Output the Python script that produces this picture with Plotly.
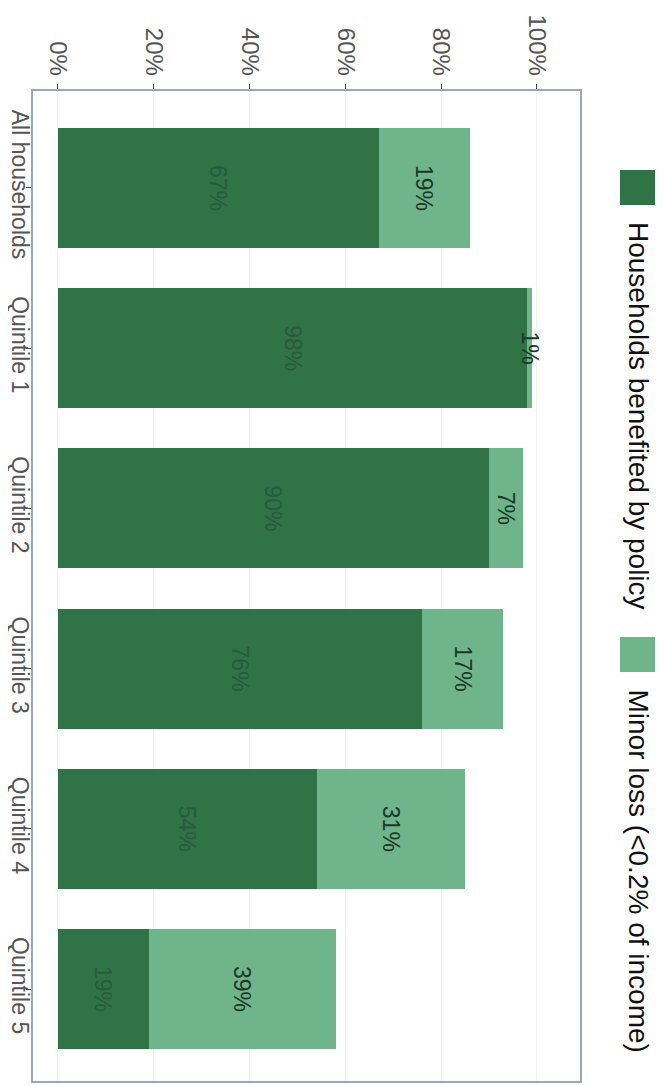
import plotly.graph_objects as go

# ---- data ----
categories = ["All households", "Quintile 1", "Quintile 2", "Quintile 3", "Quintile 4", "Quintile 5"]
benefited = [67, 98, 90, 76, 54, 19]
minor_loss = [19, 1, 7, 17, 31, 39]
series_names = ["Households benefited by policy", "Minor loss (<0.2% of income)"]
tick_values = [0, 20, 40, 60, 80, 100]
tick_labels = ["0%", "20%", "40%", "60%", "80%", "100%"]

# ---- style ----
FONT = "Liberation Sans, Arial, Helvetica, sans-serif"
DARK = "#2f7347"
LIGHT = "#6fb48a"
W, H = 664, 1086
OFF = 8  # page body margin
# plot-area box in page pixels, converted to figure pixels
PL, PR, PT, PB = 33 - OFF, 580 - OFF, 91 - OFF, 1081 - OFF


def px_x(X):
    return (X - OFF - PL) / (PR - PL)


def px_y(Y):
    return (PB - (Y - OFF)) / (PB - PT)


fig = go.Figure()
fig.add_trace(go.Bar(
    y=categories, x=benefited, orientation="h", name=series_names[0],
    marker=dict(color=DARK, line=dict(width=0)),
    text=[f"{v}%" for v in benefited], textposition="inside",
    insidetextanchor="middle", textangle=90, constraintext="none",
    textfont=dict(color="#275b3b", size=23, family=FONT),
))
fig.add_trace(go.Bar(
    y=categories, x=minor_loss, orientation="h", name=series_names[1],
    marker=dict(color=LIGHT, line=dict(width=0)),
    text=[f"{v}%" for v in minor_loss], textposition="inside",
    insidetextanchor="middle", textangle=90, constraintext="none",
    textfont=dict(color="#1b3727", size=23, family=FONT),
))

# legend drawn rotated (as in the reference)
legend_items = [
    (series_names[0], DARK, 170),
    (series_names[1], LIGHT, 637),
]
shapes = []
annotations = []
for name, col, ytop in legend_items:
    shapes.append(dict(type="rect", xref="paper", yref="paper",
                       x0=px_x(620), x1=px_x(655), y0=px_y(ytop + 35), y1=px_y(ytop),
                       fillcolor=col, line=dict(width=0)))
    annotations.append(dict(text=name, xref="paper", yref="paper",
                            x=px_x(638), y=px_y(ytop + 50), xanchor="center", yanchor="top",
                            textangle=90, showarrow=False,
                            font=dict(size=28, color="#111111", family=FONT)))

fig.update_layout(
    barmode="stack", bargap=0.25,
    width=W, height=H,
    margin=dict(l=PL, r=W - PR, t=PT, b=H - PB, autoexpand=False),
    paper_bgcolor="white", plot_bgcolor="white",
    showlegend=False,
    font=dict(family=FONT),
    shapes=shapes, annotations=annotations,
    xaxis=dict(side="top", range=[-5.2, 109], tickvals=tick_values, ticktext=tick_labels,
               tickangle=90, ticks="outside", ticklen=5, tickcolor="#444",
               showline=True, mirror=True, linecolor="#9aa6ba", linewidth=1.5,
               showgrid=True, gridcolor="#f2f2f2", zeroline=False,
               tickfont=dict(size=24, color="#555555", family=FONT)),
    yaxis=dict(type="category", range=[5.574, -0.605], tickangle=90,
               ticks="outside", ticklen=5, tickcolor="#444",
               ticklabelstandoff=-13,
               showline=True, mirror=True, linecolor="#9aa6ba", linewidth=1.5,
               showgrid=False, zeroline=False,
               tickfont=dict(size=23, color="#555555", family=FONT)),
)

fig.write_html("out.html")
